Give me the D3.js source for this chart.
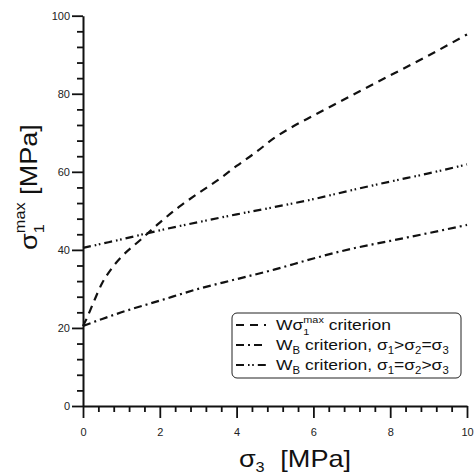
<!DOCTYPE html>
<html>
<head>
<meta charset="utf-8">
<script src="https://cdn.jsdelivr.net/npm/d3@7"></script>
<style>
  html, body { margin: 0; padding: 0; background: #fff; }
  svg { display: block; font-family: "Liberation Sans", Arial, sans-serif; }
</style>
</head>
<body>
<svg id="chart" width="474" height="476"></svg>
<script>
// Confining stress sigma_3 [MPa]
const s3Wmax = [0, 0.1, 0.25, 0.5, 0.75, 1, 1.5, 2, 2.5, 3, 3.5, 4, 4.5, 5, 5.5, 6, 7, 8, 9, 10];
// W sigma1max criterion
const s1Wmax = [20.5, 22.5, 26, 31.5, 35.3, 38.2, 42.6, 47, 51, 54.5, 57.8, 61.5, 65, 68.8, 71.8, 74.4, 79.6, 84.7, 89.8, 95.2];

const s3WB = [0, 0.5, 1, 2, 3, 4, 5, 6, 7, 8, 9, 10];
// W_B criterion, s1 > s2 = s3
const s1WBtx = [20.5, 22.3, 24, 27, 30, 32.5, 35, 37.8, 40.3, 42.3, 44.3, 46.4];
// W_B criterion, s1 = s2 > s3
const s1WBeq = [40.5, 41.6, 42.7, 45, 47.1, 49.1, 51, 53, 55.3, 57.5, 59.6, 61.9];

const xTicks = [0, 2, 4, 6, 8, 10];
const yTicks = [0, 20, 40, 60, 80, 100];
const xMinorTicks = [0.4, 0.8, 1.2, 1.6, 2.4, 2.8, 3.2, 3.6, 4.4, 4.8, 5.2, 5.6, 6.4, 6.8, 7.2, 7.6, 8.4, 8.8, 9.2, 9.6];
const yMinorTicks = [4, 8, 12, 16, 24, 28, 32, 36, 44, 48, 52, 56, 64, 68, 72, 76, 84, 88, 92, 96];

const svg = d3.select("#chart");
const x = d3.scaleLinear().domain([0, 10]).range([83, 467]);
const y = d3.scaleLinear().domain([0, 100]).range([406, 15.7]);

// minor ticks
const minorLen = 6;
svg.append("g")
  .attr("transform", `translate(0,${y(0)})`)
  .call(d3.axisBottom(x).tickValues(xMinorTicks).tickSize(minorLen).tickFormat(() => ""))
  .call(g => g.select(".domain").remove())
  .call(g => g.selectAll(".tick line").attr("stroke", "#111").attr("stroke-width", 1.8));
svg.append("g")
  .attr("transform", `translate(${x(0)},0)`)
  .call(d3.axisLeft(y).tickValues(yMinorTicks).tickSize(minorLen).tickFormat(() => ""))
  .call(g => g.select(".domain").remove())
  .call(g => g.selectAll(".tick line").attr("stroke", "#111").attr("stroke-width", 1.8));

// major ticks and labels
const gx = svg.append("g").attr("transform", `translate(0,${y(0)})`)
  .call(d3.axisBottom(x).tickValues(xTicks).tickSize(12).tickSizeOuter(0).tickPadding(10).tickFormat(d3.format("d")));
const gy = svg.append("g").attr("transform", `translate(${x(0)},0)`)
  .call(d3.axisLeft(y).tickValues(yTicks).tickSize(11).tickSizeOuter(0).tickPadding(2).tickFormat(d3.format("d")));

[gx, gy].forEach(g => {
  g.selectAll(".domain").attr("stroke", "#111").attr("stroke-width", 2);
  g.selectAll(".tick line").attr("stroke", "#111").attr("stroke-width", 1.8);
  g.selectAll(".tick text").attr("fill", "#222").attr("font-size", 11)
    .attr("font-family", "'Liberation Sans', Arial, sans-serif");
});

// curves
const line = d3.line().x(d => x(d[0])).y(d => y(d[1])).curve(d3.curveMonotoneX);
const series = [
  { xs: s3Wmax, ys: s1Wmax, dash: "8,6" },
  { xs: s3WB, ys: s1WBtx, dash: "8,4,2,4" },
  { xs: s3WB, ys: s1WBeq, dash: "8,4,1.6,2.6,1.6,4" }
];
series.forEach(s => {
  svg.append("path")
    .datum(s.xs.map((v, i) => [v, s.ys[i]]))
    .attr("d", line)
    .attr("fill", "none")
    .attr("stroke", "#111")
    .attr("stroke-width", 2.2)
    .attr("stroke-dasharray", s.dash);
});

// legend
const lg = svg.append("g");
lg.append("rect").attr("x", 232).attr("y", 313).attr("width", 229).attr("height", 65)
  .attr("rx", 5).attr("fill", "#fff").attr("stroke", "#222").attr("stroke-width", 1);

const fs = 15.5;
const stretch = 1.13;
const rows = [325, 345, 365];
series.forEach((s, i) => {
  lg.append("line").attr("x1", 236).attr("x2", 266).attr("y1", rows[i]).attr("y2", rows[i])
    .attr("stroke", "#111").attr("stroke-width", 2.2).attr("stroke-dasharray", s.dash);
});

function legendText(yy) {
  return lg.append("text")
    .attr("transform", `translate(276,${yy + 5}) scale(${stretch},1)`)
    .attr("font-size", fs).attr("fill", "#111");
}
// row 1: W sigma_1^max criterion
let t = legendText(rows[0]);
t.append("tspan").text("W\u03c3");
t.append("tspan").attr("font-size", fs * 0.62).attr("dy", fs * 0.3).text("1");
t.append("tspan").attr("font-size", fs * 0.62).attr("dx", -fs * 0.62 * 0.556).attr("dy", -fs * 0.78).text("max");
t.append("tspan").attr("dy", fs * 0.48).text(" criterion");

function wbRow(yy, a, b) {
  const tt = legendText(yy);
  tt.append("tspan").text("W");
  tt.append("tspan").attr("font-size", fs * 0.65).attr("dy", fs * 0.25).text("B");
  tt.append("tspan").attr("dy", -fs * 0.25).text(" criterion, \u03c3");
  tt.append("tspan").attr("font-size", fs * 0.65).attr("dy", fs * 0.25).text("1");
  tt.append("tspan").attr("dy", -fs * 0.25).text(a + "\u03c3");
  tt.append("tspan").attr("font-size", fs * 0.65).attr("dy", fs * 0.25).text("2");
  tt.append("tspan").attr("dy", -fs * 0.25).text(b + "\u03c3");
  tt.append("tspan").attr("font-size", fs * 0.65).attr("dy", fs * 0.25).text("3");
}
wbRow(rows[1], ">", "=");
wbRow(rows[2], "=", ">");

// axis titles
const tf = 24;
const xt = svg.append("text").attr("transform", `translate(295,467) scale(${stretch},1)`)
  .attr("text-anchor", "middle").attr("font-size", tf).attr("fill", "#111");
xt.append("tspan").text("\u03c3");
xt.append("tspan").attr("font-size", tf * 0.6).attr("dy", tf * 0.2).text("3");
xt.append("tspan").attr("dy", -tf * 0.2).attr("dx", tf * 0.3).text(" [MPa]");

const yt = svg.append("text").attr("transform", `translate(37,187) rotate(-90) scale(${stretch},1)`)
  .attr("text-anchor", "middle").attr("font-size", tf).attr("fill", "#111");
yt.append("tspan").text("\u03c3");
yt.append("tspan").attr("font-size", tf * 0.6).attr("dy", tf * 0.3).text("1");
yt.append("tspan").attr("font-size", tf * 0.6).attr("dx", -tf * 0.6 * 0.556).attr("dy", -tf * 0.78).text("max");
yt.append("tspan").attr("dy", tf * 0.48).text(" [MPa]");
</script>
</body>
</html>
